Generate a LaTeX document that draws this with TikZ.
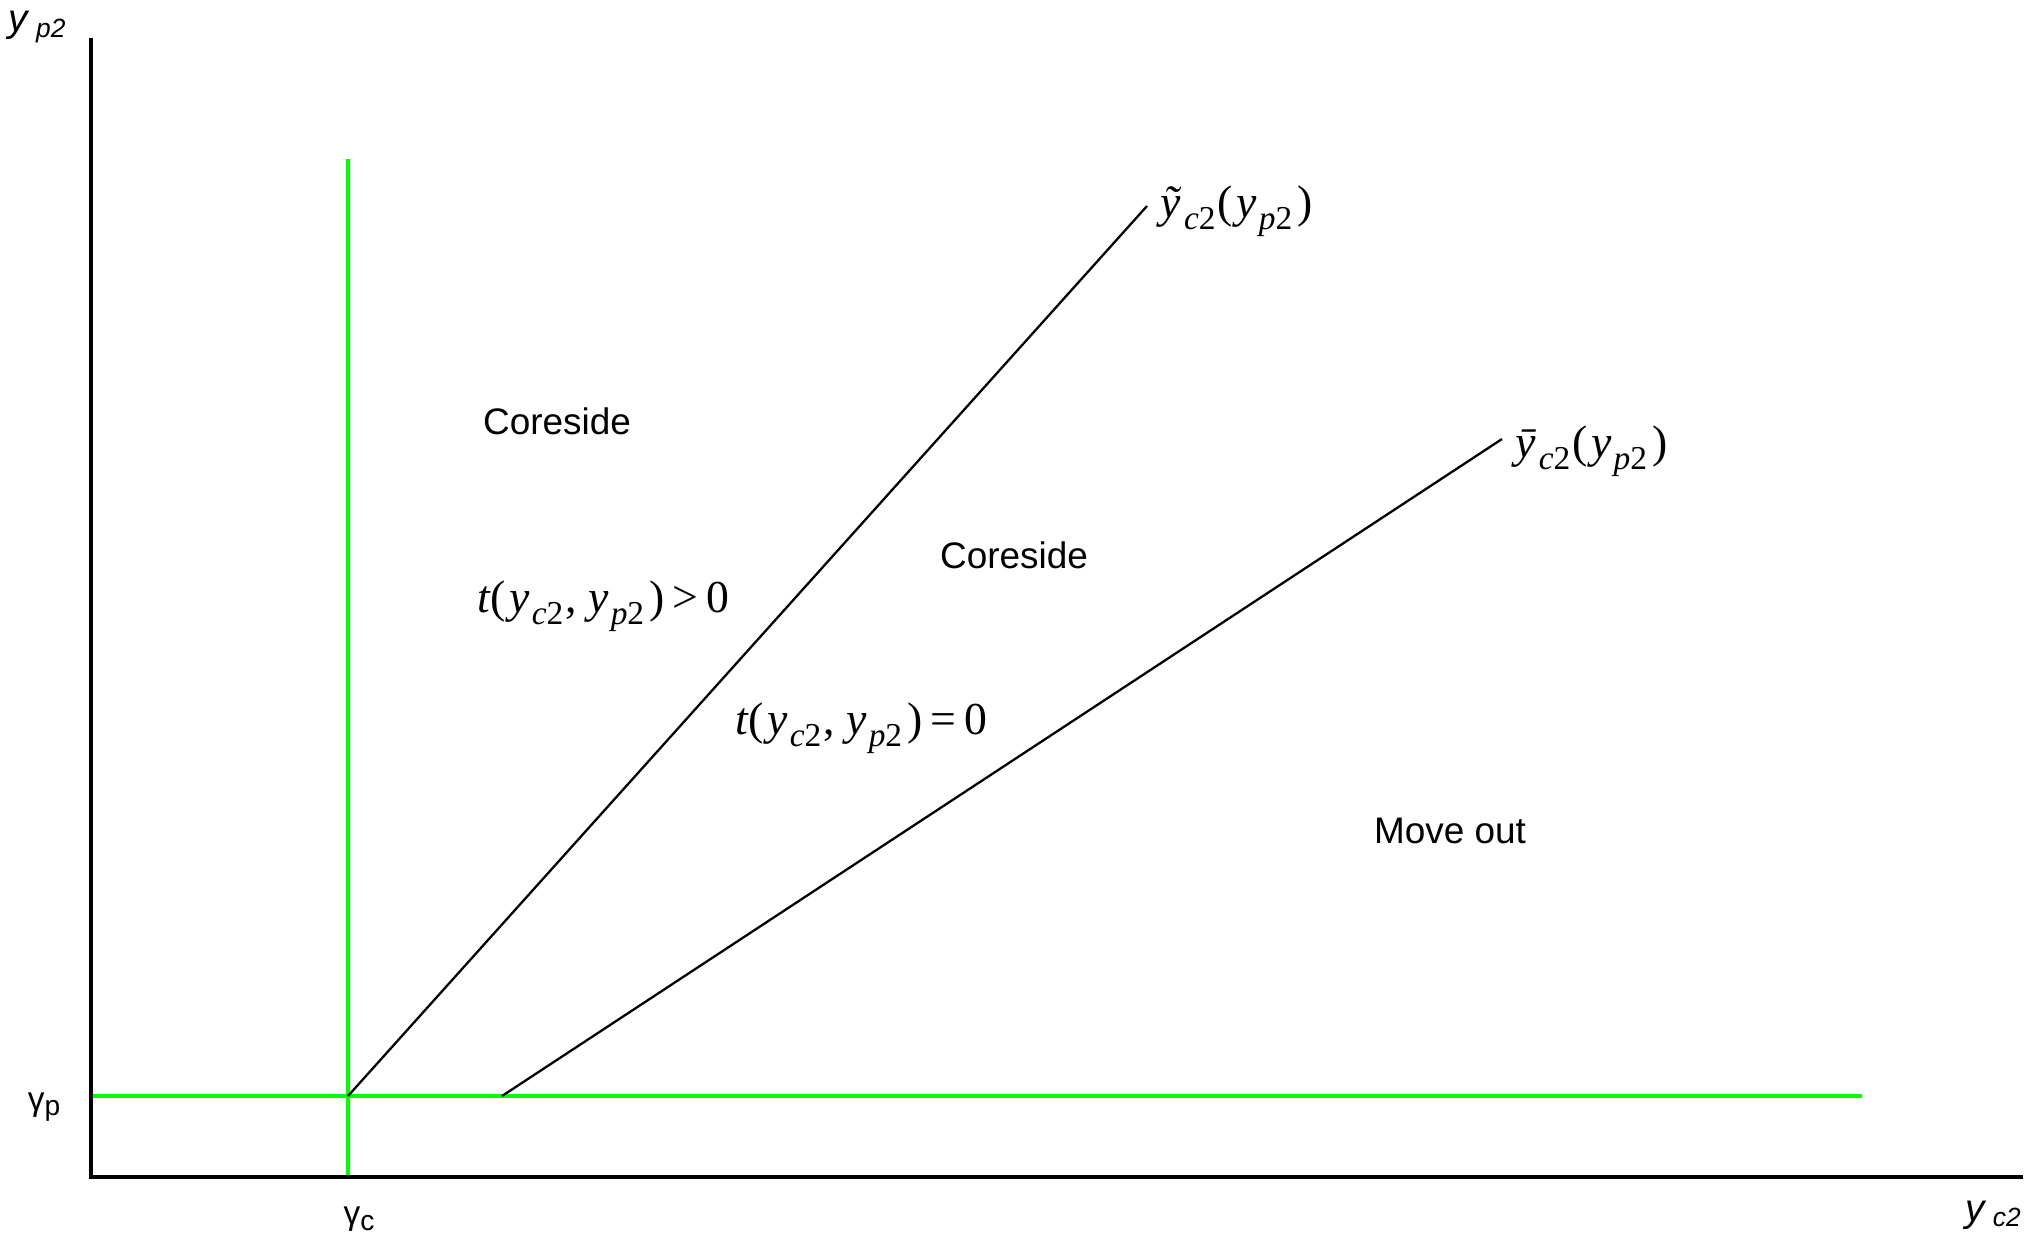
\documentclass[tikz,border=0pt]{standalone}
\usepackage{fontspec}
\setmainfont{Liberation Sans}
\newfontfamily\tnr{Liberation Serif}
\definecolor{lgreen}{RGB}{0,255,0}
\newcommand{\tsb}[1]{\kern0.6pt\raisebox{-0.55ex}{\fontsize{9.5}{10}\selectfont #1}\kern0.6pt}
\newcommand{\asb}[1]{\raisebox{-1.6pt}{\fontsize{7.5}{8}\selectfont #1}}
\newcommand{\lp}{(\kern1pt}
\newcommand{\rp}{\kern1pt)}
\begin{document}
\begin{tikzpicture}[x=0.01cm,y=-0.01cm,
  axis/.style={line width=0.9pt, black},
  gline/.style={line width=0.9pt, lgreen},
  bound/.style={line width=0.65pt, black},
  lbl/.style={font=\fontsize{10.5}{12}\selectfont, inner sep=0},
  axl/.style={font=\fontsize{11}{12}\selectfont, inner sep=0},
  mth/.style={font=\tnr\fontsize{13}{14}\selectfont, inner sep=0}]
\useasboundingbox (0,0) rectangle (2042,1239);
\coordinate (O) at (91,1177);
\coordinate (ytop) at (91,38);
\coordinate (xend) at (2023,1177);
\coordinate (gvtop) at (348,159);
\coordinate (gvbot) at (348,1177);
\coordinate (ghl) at (91,1096);
\coordinate (ghr) at (1862,1096);
\coordinate (A) at (348,1096);
\coordinate (B) at (502,1096);
\coordinate (Aend) at (1147,206);
\coordinate (Bend) at (1502,439);
\draw[gline] (gvtop) -- (gvbot);
\draw[gline] (ghl) -- (ghr);
\draw[axis] (ytop) -- (O) -- (xend);
\draw[bound] (A) -- (Aend);
\draw[bound] (B) -- (Bend);
% axis labels
\node[axl] (ylab) at (37,27) {\textit{y}\,\asb{\textit{p2}}};
\node[axl] (xlab) at (1993,1215) {\textit{y}\,\asb{\textit{c2}}};
\node[axl, font=\fontsize{9.5}{11}\selectfont] (gp) at (44,1107) {γ\raisebox{-1.6pt}{\fontsize{8}{9}\selectfont p}};
\node[axl, font=\fontsize{9.5}{11}\selectfont] (gc) at (359,1219) {γ\raisebox{-1.6pt}{\fontsize{8}{9}\selectfont c}};
% region labels
\node[lbl] (cor1) at (557,421) {Coreside};
\node[lbl] (cor2) at (1014,555) {Coreside};
\node[lbl] (mo) at (1450,831) {Move out};
% math labels
\node[mth] (tpos) at (603,606) {\textit{t}\lp\textit{y}\tsb{\textit{c}2}, \textit{y}\tsb{\textit{p}2}\rp\,>\,0};
\node[mth] (tzero) at (861,728) {\textit{t}\lp\textit{y}\tsb{\textit{c}2}, \textit{y}\tsb{\textit{p}2}\rp\,=\,0};
\node[mth, anchor=west] (ytil) at (1160,211) {\textit{\~{y}}\tsb{\textit{c}2}\lp\textit{y}\tsb{\textit{p}2}\rp};
\node[mth, anchor=west] (ybar) at (1515,451) {\textit{\={y}}\tsb{\textit{c}2}\lp\textit{y}\tsb{\textit{p}2}\rp};
\end{tikzpicture}
\end{document}
